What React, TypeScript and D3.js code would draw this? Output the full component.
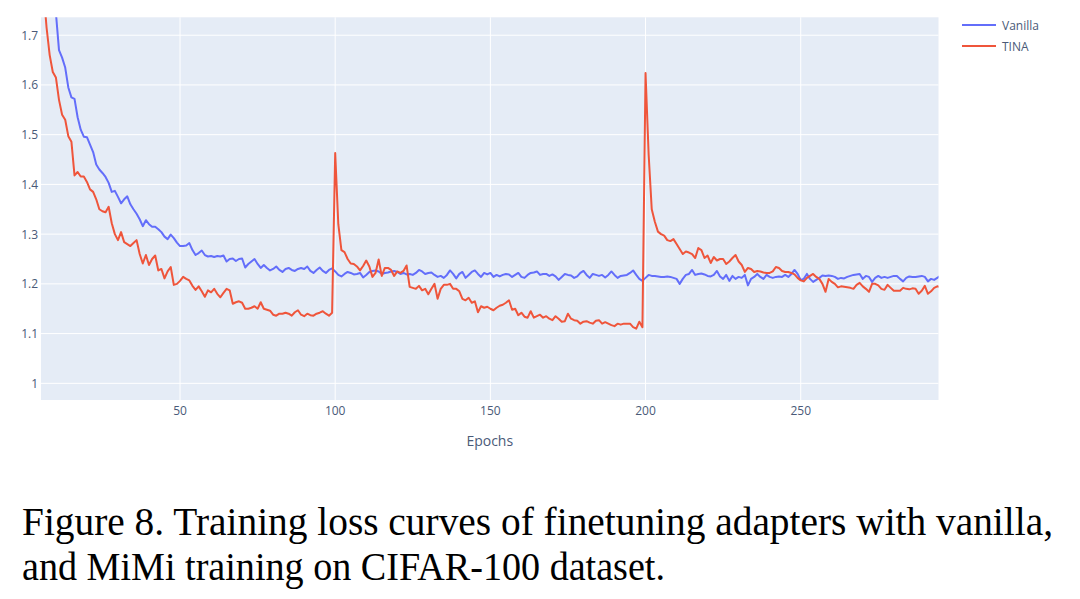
import React from "react";
import * as d3 from "d3";

const EPOCH_START = 5;
const X_DOMAIN: [number, number] = [5.2, 294.4];
const Y_DOMAIN: [number, number] = [0.9665, 1.736];
const xTicks = [50, 100, 150, 200, 250];
const yTicks = [1, 1.1, 1.2, 1.3, 1.4, 1.5, 1.6, 1.7];
const yTickLabels = ["1", "1.1", "1.2", "1.3", "1.4", "1.5", "1.6", "1.7"];
const seriesNames = ["Vanilla", "TINA"];
const seriesColors = ["#636efa", "#ef553b"];

const vanilla = [
  2.10, 2.00, 1.92, 1.85, 1.79, 1.745, 1.67, 1.655, 1.635, 1.595,
  1.575, 1.572, 1.535, 1.51, 1.496, 1.495, 1.48, 1.465, 1.44, 1.43,
  1.423, 1.415, 1.403, 1.385, 1.387, 1.375, 1.362, 1.37, 1.376, 1.36,
  1.35, 1.341, 1.33, 1.316, 1.328, 1.32, 1.315, 1.315, 1.31, 1.304,
  1.295, 1.29, 1.299, 1.292, 1.283, 1.276, 1.276, 1.277, 1.282, 1.268,
  1.258, 1.262, 1.267, 1.258, 1.255, 1.256, 1.254, 1.256, 1.255, 1.257,
  1.245, 1.25, 1.251, 1.246, 1.25, 1.251, 1.233, 1.24, 1.245, 1.25,
  1.24, 1.232, 1.238, 1.232, 1.227, 1.23, 1.235, 1.228, 1.224, 1.23,
  1.232, 1.228, 1.226, 1.23, 1.232, 1.23, 1.235, 1.226, 1.222, 1.228,
  1.233, 1.226, 1.222, 1.228, 1.231, 1.225, 1.218, 1.215, 1.22, 1.224,
  1.222, 1.219, 1.22, 1.222, 1.213, 1.218, 1.224, 1.226, 1.227, 1.225,
  1.22, 1.222, 1.223, 1.225, 1.226, 1.224, 1.22, 1.222, 1.219, 1.22,
  1.218, 1.222, 1.228, 1.225, 1.22, 1.222, 1.223, 1.218, 1.214, 1.216,
  1.212, 1.218, 1.227, 1.22, 1.211, 1.22, 1.224, 1.212, 1.218, 1.224,
  1.227, 1.22, 1.214, 1.222, 1.219, 1.222, 1.214, 1.218, 1.215, 1.218,
  1.22, 1.219, 1.214, 1.218, 1.222, 1.214, 1.212, 1.218, 1.222, 1.223,
  1.225, 1.218, 1.22, 1.22, 1.216, 1.219, 1.215, 1.208, 1.214, 1.22,
  1.218, 1.217, 1.212, 1.215, 1.222, 1.226, 1.218, 1.212, 1.22, 1.218,
  1.216, 1.218, 1.213, 1.218, 1.225, 1.218, 1.212, 1.216, 1.217, 1.218,
  1.222, 1.227, 1.218, 1.21, 1.206, 1.212, 1.218, 1.216, 1.216, 1.215,
  1.214, 1.214, 1.215, 1.214, 1.212, 1.21, 1.2, 1.21, 1.218, 1.22,
  1.228, 1.218, 1.22, 1.221, 1.219, 1.216, 1.215, 1.218, 1.226, 1.215,
  1.21, 1.218, 1.206, 1.216, 1.21, 1.214, 1.212, 1.218, 1.197, 1.21,
  1.214, 1.22, 1.214, 1.21, 1.218, 1.214, 1.212, 1.214, 1.215, 1.214,
  1.218, 1.214, 1.22, 1.228, 1.22, 1.208, 1.21, 1.22, 1.21, 1.204,
  1.208, 1.212, 1.217, 1.216, 1.217, 1.216, 1.214, 1.21, 1.212, 1.211,
  1.214, 1.216, 1.218, 1.219, 1.22, 1.21, 1.216, 1.214, 1.204, 1.212,
  1.216, 1.212, 1.214, 1.212, 1.214, 1.216, 1.216, 1.21, 1.205, 1.212,
  1.215, 1.214, 1.214, 1.215, 1.216, 1.214, 1.205, 1.21, 1.208, 1.212, 1.216,
];

const tina = [
  1.86, 1.79, 1.715, 1.66, 1.626, 1.615, 1.57, 1.54, 1.53, 1.497,
  1.486, 1.418, 1.425, 1.416, 1.416, 1.405, 1.39, 1.385, 1.37, 1.35,
  1.346, 1.344, 1.355, 1.322, 1.3, 1.288, 1.304, 1.284, 1.28, 1.276,
  1.282, 1.288, 1.26, 1.241, 1.258, 1.238, 1.25, 1.257, 1.227, 1.23,
  1.211, 1.225, 1.234, 1.198, 1.2, 1.206, 1.214, 1.21, 1.207, 1.196,
  1.188, 1.195, 1.185, 1.174, 1.187, 1.183, 1.19, 1.18, 1.173, 1.182,
  1.19, 1.187, 1.16, 1.163, 1.165, 1.162, 1.15, 1.15, 1.152, 1.155,
  1.15, 1.163, 1.15, 1.148, 1.146, 1.138, 1.136, 1.14, 1.14, 1.142,
  1.14, 1.136, 1.143, 1.147, 1.138, 1.135, 1.14, 1.137, 1.136, 1.14,
  1.142, 1.145, 1.14, 1.136, 1.142, 1.463, 1.32, 1.268, 1.264, 1.25,
  1.241, 1.24, 1.235, 1.227, 1.236, 1.247, 1.235, 1.214, 1.222, 1.249,
  1.216, 1.232, 1.232, 1.228, 1.216, 1.225, 1.222, 1.226, 1.237, 1.194,
  1.192, 1.19, 1.196, 1.187, 1.19, 1.179, 1.19, 1.2, 1.17, 1.19,
  1.198, 1.198, 1.2, 1.19, 1.19, 1.185, 1.17, 1.167, 1.172, 1.162,
  1.165, 1.143, 1.155, 1.152, 1.154, 1.15, 1.147, 1.152, 1.156, 1.158,
  1.162, 1.167, 1.148, 1.15, 1.137, 1.142, 1.134, 1.132, 1.145, 1.132,
  1.135, 1.138, 1.132, 1.135, 1.13, 1.127, 1.135, 1.13, 1.124, 1.125,
  1.14, 1.13, 1.127, 1.126, 1.12, 1.124, 1.125, 1.122, 1.12, 1.126,
  1.127, 1.12, 1.123, 1.12, 1.117, 1.115, 1.12, 1.118, 1.12, 1.12,
  1.12, 1.113, 1.11, 1.124, 1.113, 1.624, 1.46, 1.35, 1.325, 1.305,
  1.3, 1.297, 1.288, 1.286, 1.29, 1.28, 1.27, 1.26, 1.265, 1.263,
  1.26, 1.252, 1.272, 1.268, 1.252, 1.257, 1.242, 1.254, 1.247, 1.25,
  1.25, 1.24, 1.245, 1.252, 1.258, 1.245, 1.238, 1.224, 1.232, 1.23,
  1.224, 1.226, 1.225, 1.223, 1.222, 1.222, 1.225, 1.234, 1.232, 1.226,
  1.224, 1.224, 1.222, 1.219, 1.212, 1.207, 1.205, 1.212, 1.216, 1.22,
  1.214, 1.21, 1.2, 1.184, 1.21, 1.204, 1.2, 1.193, 1.195, 1.194,
  1.193, 1.192, 1.19, 1.198, 1.202, 1.195, 1.19, 1.184, 1.2, 1.2,
  1.197, 1.19, 1.188, 1.198, 1.192, 1.186, 1.186, 1.186, 1.192, 1.19,
  1.189, 1.191, 1.19, 1.18, 1.186, 1.196, 1.18, 1.185, 1.192, 1.195, 1.194,
];

const captionLines = [
  "Figure 8. Training loss curves of finetuning adapters with vanilla,",
  "and MiMi training on CIFAR-100 dataset.",
];

const W = 1080;
const H = 599;
const plot = { left: 41, right: 938.5, top: 17.3, bottom: 400 };
const FONT = "'Open Sans', 'Noto Sans', sans-serif";
const TICK_COLOR = "#4a5a78";

export default function App() {
  const x = d3.scaleLinear().domain(X_DOMAIN).range([plot.left, plot.right]);
  const y = d3.scaleLinear().domain(Y_DOMAIN).range([plot.bottom, plot.top]);
  const series = [vanilla, tina];
  const line = d3
    .line<number>()
    .x((_, i) => x(EPOCH_START + i))
    .y((d) => y(d));

  return (
    <svg
      width={W}
      height={H}
      style={{ position: "absolute", left: 0, top: 0, background: "#fff" }}
    >
      <defs>
        <clipPath id="plotclip">
          <rect
            x={plot.left}
            y={plot.top}
            width={plot.right - plot.left}
            height={plot.bottom - plot.top}
          />
        </clipPath>
      </defs>
      <rect x={0} y={0} width={W} height={H} fill="#fff" />
      <rect
        x={plot.left}
        y={plot.top}
        width={plot.right - plot.left}
        height={plot.bottom - plot.top}
        fill="#e5ecf6"
      />
      {xTicks.map((t) => (
        <line
          key={"gx" + t}
          x1={x(t)}
          x2={x(t)}
          y1={plot.top}
          y2={plot.bottom}
          stroke="#fff"
          strokeWidth={1}
        />
      ))}
      {yTicks.map((t) => (
        <line
          key={"gy" + t}
          x1={plot.left}
          x2={plot.right}
          y1={y(t)}
          y2={y(t)}
          stroke="#fff"
          strokeWidth={1}
        />
      ))}
      <g clipPath="url(#plotclip)">
        {series.map((s, i) => (
          <path
            key={seriesNames[i]}
            d={line(s) || ""}
            fill="none"
            stroke={seriesColors[i]}
            strokeWidth={2}
            strokeLinejoin="round"
          />
        ))}
      </g>
      {xTicks.map((t) => (
        <text
          key={"tx" + t}
          x={x(t)}
          y={415}
          textAnchor="middle"
          fontFamily={FONT}
          fontSize={12}
          fill={TICK_COLOR}
        >
          {t}
        </text>
      ))}
      {yTicks.map((t, i) => (
        <text
          key={"ty" + t}
          x={38}
          y={y(t) + 4.5}
          textAnchor="end"
          fontFamily={FONT}
          fontSize={12}
          fill={TICK_COLOR}
        >
          {yTickLabels[i]}
        </text>
      ))}
      <text
        x={(plot.left + plot.right) / 2}
        y={446}
        textAnchor="middle"
        fontFamily={FONT}
        fontSize={14}
        fill={TICK_COLOR}
      >
        Epochs
      </text>
      {seriesNames.map((n, i) => (
        <g key={"lg" + n}>
          <line
            x1={962}
            x2={996}
            y1={25 + i * 21}
            y2={25 + i * 21}
            stroke={seriesColors[i]}
            strokeWidth={2}
          />
          <text
            x={1002}
            y={25 + i * 21 + 4.5}
            fontFamily={FONT}
            fontSize={12}
            fill={TICK_COLOR}
          >
            {n}
          </text>
        </g>
      ))}
      {captionLines.map((c, i) => (
        <text
          key={"cap" + i}
          x={22}
          y={535 + i * 45}
          fontFamily="'Liberation Serif', 'Times New Roman', serif"
          fontSize={39}
          fill="#000"
          textLength={i === 0 ? 1031 : 643}
          lengthAdjust="spacingAndGlyphs"
        >
          {c}
        </text>
      ))}
    </svg>
  );
}
